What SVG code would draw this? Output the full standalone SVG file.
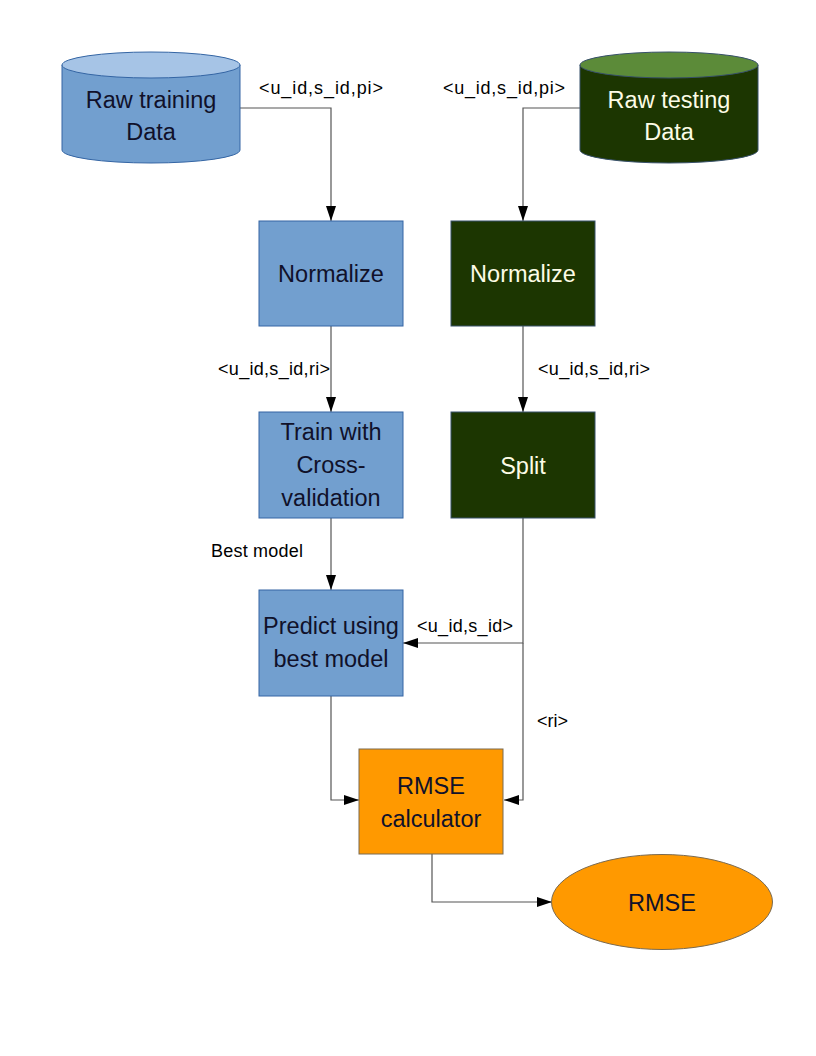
<svg xmlns="http://www.w3.org/2000/svg" width="816" height="1056" viewBox="0 0 816 1056">
<defs>
<marker id="arr" markerWidth="15" markerHeight="10" refX="15" refY="5" orient="auto" markerUnits="userSpaceOnUse">
<path d="M0,0 L15,5 L0,10 Z" fill="#000"/>
</marker>
<style>
.blue{fill:#729fcf;stroke:#3465a4;stroke-width:1}
.bluetop{fill:#a6c4e6;stroke:#3465a4;stroke-width:1}
.green{fill:#1c3601;stroke:#37506a;stroke-width:1}
.greentop{fill:#5c8b39;stroke:#37506a;stroke-width:1}
.orange{fill:#ff9900;stroke:#7a6a50;stroke-width:1}
.nt{font-family:"Liberation Sans",Arial,sans-serif;font-size:23.5px;text-anchor:middle;fill:#10112a}
.ntl{font-family:"Liberation Sans",Arial,sans-serif;font-size:23.5px;text-anchor:middle;fill:#fcfce6}
.lbl{font-family:"Liberation Sans",Arial,sans-serif;font-size:18px;fill:#000}
.con{fill:none;stroke:#555;stroke-width:1.2}
</style>
</defs>
<rect width="816" height="1056" fill="#fff"/>
<g id="connectors">
<path class="con" d="M240,108 H331 V221" marker-end="url(#arr)"/>
<path class="con" d="M580,108 H523 V221" marker-end="url(#arr)"/>
<path class="con" d="M331,326 V412" marker-end="url(#arr)"/>
<path class="con" d="M523,326 V412" marker-end="url(#arr)"/>
<path class="con" d="M331,518 V590" marker-end="url(#arr)"/>
<path class="con" d="M523,518 V643 H403" marker-end="url(#arr)"/>
<path class="con" d="M523,643 V800 H504" marker-end="url(#arr)"/>
<path class="con" d="M331,696 V800 H359" marker-end="url(#arr)"/>
<path class="con" d="M432,854 V902 H552" marker-end="url(#arr)"/>
<text class="lbl" x="259" y="94" textLength="124" lengthAdjust="spacing">&lt;u_id,s_id,pi&gt;</text>
<text class="lbl" x="443" y="94" textLength="122" lengthAdjust="spacing">&lt;u_id,s_id,pi&gt;</text>
<text class="lbl" x="218" y="375" textLength="112" lengthAdjust="spacing">&lt;u_id,s_id,ri&gt;</text>
<text class="lbl" x="538" y="375" textLength="112" lengthAdjust="spacing">&lt;u_id,s_id,ri&gt;</text>
<text class="lbl" x="211" y="557" textLength="92" lengthAdjust="spacing">Best model</text>
<text class="lbl" x="417" y="632" textLength="96" lengthAdjust="spacing">&lt;u_id,s_id&gt;</text>
<text class="lbl" x="537" y="727" textLength="31" lengthAdjust="spacing">&lt;ri&gt;</text>
</g>
<g id="raw-training">
<path class="blue" d="M62,65 L62,150 A89,13 0 0 0 240,150 L240,65 Z"/>
<ellipse class="bluetop" cx="151" cy="65" rx="89" ry="13"/>
<text class="nt" x="151" y="108">Raw training</text>
<text class="nt" x="151" y="140">Data</text>
</g>
<g id="raw-testing">
<path class="green" d="M580,65 L580,150 A89,13 0 0 0 758,150 L758,65 Z"/>
<ellipse class="greentop" cx="669" cy="65" rx="89" ry="13"/>
<text class="ntl" x="669" y="108">Raw testing</text>
<text class="ntl" x="669" y="140">Data</text>
</g>
<g id="normalize-train">
<rect class="blue" x="259" y="221" width="144" height="105"/>
<text class="nt" x="331" y="282">Normalize</text>
</g>
<g id="normalize-test">
<rect class="green" x="451" y="221" width="144" height="105"/>
<text class="ntl" x="523" y="282">Normalize</text>
</g>
<g id="train">
<rect class="blue" x="259" y="412" width="144" height="106"/>
<text class="nt" x="331" y="440">Train with</text>
<text class="nt" x="331" y="473">Cross-</text>
<text class="nt" x="331" y="506">validation</text>
</g>
<g id="split">
<rect class="green" x="451" y="412" width="144" height="106"/>
<text class="ntl" x="523" y="474">Split</text>
</g>
<g id="predict">
<rect class="blue" x="259" y="590" width="144" height="106"/>
<text class="nt" x="331" y="634">Predict using</text>
<text class="nt" x="331" y="667">best model</text>
</g>
<g id="rmse-calc">
<rect class="orange" x="359" y="749" width="144" height="105"/>
<text class="nt" x="431" y="794">RMSE</text>
<text class="nt" x="431" y="827">calculator</text>
</g>
<g id="rmse">
<ellipse class="orange" cx="662" cy="902" rx="110.5" ry="47.5"/>
<text class="nt" x="662" y="911">RMSE</text>
</g>
</svg>
